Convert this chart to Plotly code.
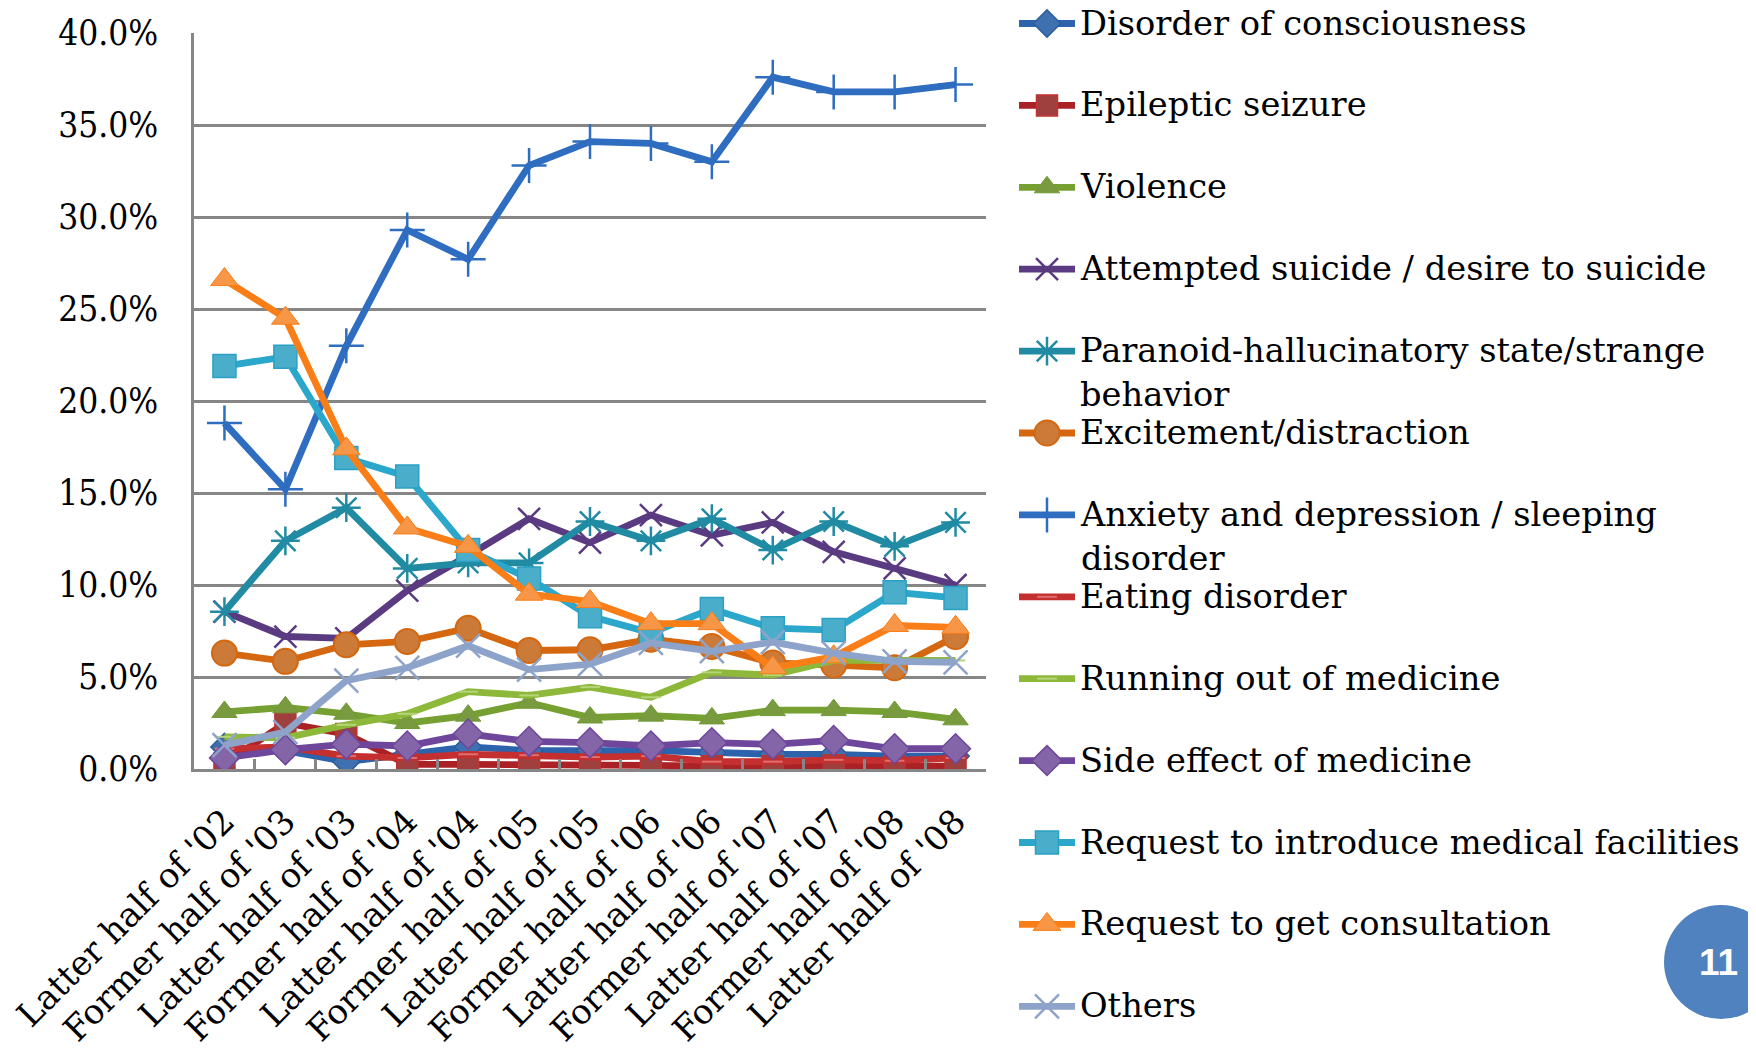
import plotly.graph_objects as go

W, H = 1756, 1048
OFF = 8  # browser page margin compensation

categories = ["Latter half of '02", "Former half of '03", "Latter half of '03", "Former half of '04",
              "Latter half of '04", "Former half of '05", "Latter half of '05", "Former half of '06",
              "Latter half of '06", "Former half of '07", "Latter half of '07", "Former half of '08",
              "Latter half of '08"]

disorder_of_consciousness = [1.2, 1.0, 0.4, 0.8, 1.2, 1.0, 1.0, 1.0, 0.9, 0.8, 0.8, 0.7, 0.7]
epileptic_seizure = [0.3, 2.5, 1.9, 0.25, 0.25, 0.25, 0.25, 0.2, 0.15, 0.15, 0.2, 0.15, 0.15]
violence = [3.1, 3.35, 3.0, 2.5, 2.9, 3.6, 2.8, 2.9, 2.75, 3.2, 3.2, 3.1, 2.7]
attempted_suicide = [8.55, 7.2, 7.1, 9.7, 11.6, 13.6, 12.3, 13.8, 12.7, 13.4, 11.8, 10.9, 10.0]
paranoid = [8.55, 12.4, 14.2, 10.9, 11.2, 11.2, 13.45, 12.4, 13.6, 11.9, 13.45, 12.1, 13.4]
excitement = [6.3, 5.85, 6.75, 6.93, 7.65, 6.44, 6.48, 7.05, 6.66, 5.76, 5.65, 5.5, 7.2]
anxiety = [18.8, 15.2, 23.0, 29.3, 27.7, 32.8, 34.1, 34.0, 33.0, 37.6, 36.8, 36.8, 37.2]
eating_disorder = [1.1, 1.2, 0.7, 0.6, 0.8, 0.75, 0.65, 0.7, 0.4, 0.4, 0.5, 0.45, 0.6]
running_out = [1.75, 1.7, 2.4, 3.0, 4.2, 4.0, 4.45, 3.9, 5.25, 5.1, 5.9, 5.9, 5.9]
side_effect = [0.6, 1.05, 1.35, 1.25, 1.9, 1.5, 1.43, 1.25, 1.43, 1.34, 1.55, 1.1, 1.1]
request_facilities = [21.9, 22.4, 16.9, 15.9, 11.9, 10.35, 8.3, 7.4, 8.7, 7.65, 7.55, 9.6, 9.3]
request_consultation = [26.6, 24.5, 17.4, 13.1, 12.1, 9.5, 9.1, 7.9, 7.9, 5.5, 6.1, 7.8, 7.7]
others = [1.3, 2.0, 4.8, 5.5, 6.7, 5.4, 5.7, 6.85, 6.4, 6.9, 6.3, 5.85, 5.8]

series_names = ["Disorder of consciousness", "Epileptic seizure", "Violence",
                "Attempted suicide / desire to suicide",
                "Paranoid-hallucinatory state/strange<br>behavior",
                "Excitement/distraction",
                "Anxiety and depression / sleeping<br>disorder",
                "Eating disorder", "Running out of medicine", "Side effect of medicine",
                "Request to introduce medical facilities", "Request to get consultation", "Others"]
series_values = [disorder_of_consciousness, epileptic_seizure, violence, attempted_suicide, paranoid,
                 excitement, anxiety, eating_disorder, running_out, side_effect,
                 request_facilities, request_consultation, others]

# style: (line color, marker symbol, marker size, marker fill, marker line color, marker line width)
styles = [
    ("#2C63AC", "diamond", 21, "#3F70B0", "#2C5E9E", 1.5),
    ("#AA2126", "square", 21, "#A0403E", "#BE3232", 1.5),
    ("#76A032", "triangle-up", 22, "#7A9A3F", "#6E9A35", 1.0),
    ("#5A3A80", "x-thin-open", 22, "#5A3A80", "#5A3A80", 2.5),
    ("#208BA3", "asterisk-open", 24, "#208BA3", "#208BA3", 2.5),
    ("#D4670F", "circle", 25, "#CC7A38", "#D4670F", 2.0),
    ("#2E6DC0", "cross-thin-open", 25, "#2E6DC0", "#2E6DC0", 2.5),
    ("#C42F2F", "line-ew-open", 14, "#E07070", "#E07070", 2.0),
    ("#8DB83A", "line-ew-open", 14, "#B6D57A", "#B6D57A", 2.0),
    ("#6E469B", "diamond", 23, "#8465A8", "#6E469B", 1.5),
    ("#2AA7CB", "square", 23, "#4AAECB", "#2AA0C4", 1.5),
    ("#FA7E18", "triangle-up", 24, "#F79646", "#FA7E18", 1.0),
    ("#8EA3C9", "x-thin-open", 24, "#8EA3C9", "#8EA3C9", 2.5),
]

fig = go.Figure()

for name, vals, st in zip(series_names, series_values, styles):
    lc, sym, sz, fc, mlc, mlw = st
    fig.add_trace(go.Scatter(
        x=categories, y=[v / 100 for v in vals], mode="lines+markers", name=name.replace("<br>", " "),
        line=dict(color=lc, width=6.8),
        marker=dict(symbol=sym, size=sz, color=fc, line=dict(color=mlc, width=mlw)),
        showlegend=False, xaxis="x", yaxis="y"))


def px_x(v):
    return (v - OFF) / W


def px_y(v):
    return 1 - (v - OFF) / H


# custom legend in window pixel space (overlay axes x2/y2 for symbols, paper for text)
row0, row_gap = 23.5, 81.9
lx0, lx1, tx = 1019, 1075, 1078
fs = 33.7
shapes = []
annotations = []
for i, (name, st) in enumerate(zip(series_names, styles)):
    lc, sym, sz, fc, mlc, mlw = st
    ry = row0 + row_gap * i
    shapes.append(dict(type="line", xref="x2", yref="y2", x0=lx0, x1=lx1, y0=ry, y1=ry,
                       line=dict(color=lc, width=6.8), layer="below"))
    fig.add_trace(go.Scatter(
        x=[(lx0 + lx1) / 2], y=[ry], mode="markers",
        marker=dict(symbol=sym, size=sz, color=fc, line=dict(color=mlc, width=mlw)),
        showlegend=False, xaxis="x2", yaxis="y2", hoverinfo="skip"))
    annotations.append(dict(xref="paper", yref="paper", x=px_x(tx), y=px_y(ry - 22),
                            xanchor="left", yanchor="top",
                            text=name, showarrow=False, align="left",
                            font=dict(family="DejaVu Serif", size=fs, color="black")))

# page badge
shapes.append(dict(type="circle", xref="x2", yref="y2", x0=1664, x1=1778, y0=905, y1=1019,
                   fillcolor="#4F82BE", line=dict(width=0), layer="above"))
annotations.append(dict(xref="paper", yref="paper", x=px_x(1718), y=px_y(962), text="<b>11</b>",
                        showarrow=False, xanchor="center", yanchor="middle",
                        font=dict(family="Liberation Sans", size=37, color="white")))

grid_col = "#868686"
px_l, px_r, px_t, px_b = 194 - OFF, 986 - OFF, 33 - OFF, 769 - OFF
fig.update_layout(
    width=W, height=H,
    margin=dict(l=0, r=0, t=0, b=0, autoexpand=False),
    paper_bgcolor="white", plot_bgcolor="rgba(0,0,0,0)",
    showlegend=False,
    shapes=shapes, annotations=annotations,
    xaxis=dict(domain=[px_l / W, px_r / W], anchor="y", type="category", automargin=False,
               range=[-0.5, len(categories) - 0.5],
               showgrid=False, showline=True, linecolor=grid_col, linewidth=2.5,
               ticks="inside", tickson="boundaries", ticklen=10, tickwidth=2.5, tickcolor=grid_col,
               tickangle=-45, tickfont=dict(family="DejaVu Serif", size=34, color="black"),
               ticklabelstandoff=16, zeroline=False),
    yaxis=dict(domain=[(H - px_b) / H, (H - px_t) / H], anchor="x", range=[0, 0.40], automargin=False,
               dtick=0.05, tickformat=".1%", showgrid=True, gridcolor=grid_col, gridwidth=2.5,
               showline=True, linecolor=grid_col, linewidth=2.5, zeroline=False,
               ticks="", ticklabelstandoff=26,
               tickfont=dict(family="DejaVu Serif Condensed, Liberation Serif", size=35, color="black")),
    xaxis2=dict(domain=[0, 1], anchor="y2", range=[OFF, W + OFF], visible=False, fixedrange=True,
                automargin=False),
    yaxis2=dict(domain=[0, 1], anchor="x2", range=[H + OFF, OFF], visible=False, fixedrange=True,
                automargin=False),
)

fig.write_html("out.html")
